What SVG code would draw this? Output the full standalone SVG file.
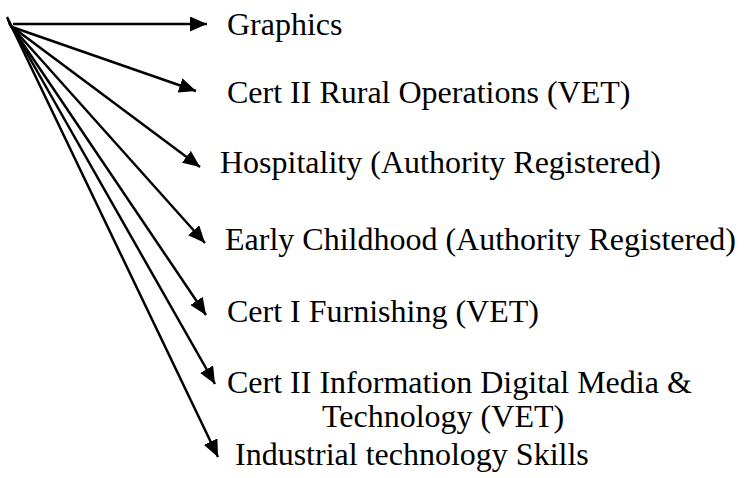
<svg xmlns="http://www.w3.org/2000/svg" width="754" height="478" viewBox="0 0 754 478">
<defs>
<marker id="ah" markerUnits="userSpaceOnUse" markerWidth="17" markerHeight="15" viewBox="0 0 17 15" refX="17" refY="7.5" orient="auto">
<path d="M0,0 L17,7.5 L0,15 Z" fill="#000"/>
</marker>
</defs>
<style>
.t{font-family:"Liberation Serif","Times New Roman",serif;font-size:32px;fill:#000}
.c{stroke:#000;stroke-width:2.5;fill:none;marker-end:url(#ah)}
</style>
<g id="connectors">
<line class="c" x1="13" y1="24" x2="207" y2="24"/>
<line class="c" x1="12" y1="27" x2="196" y2="91"/>
<line class="c" x1="11" y1="26" x2="200" y2="167"/>
<line class="c" x1="10" y1="25" x2="205" y2="243"/>
<line class="c" x1="9" y1="23" x2="206" y2="315"/>
<line class="c" x1="8" y1="20" x2="215" y2="384"/>
<line class="c" x1="7" y1="17" x2="218" y2="457"/>
</g>
<g id="n1"><text class="t" x="227" y="35">Graphics</text></g>
<g id="n2"><text class="t" x="227" y="103">Cert II Rural Operations (VET)</text></g>
<g id="n3"><text class="t" x="220" y="173">Hospitality (Authority Registered)</text></g>
<g id="n4"><text class="t" x="225" y="250">Early Childhood (Authority Registered)</text></g>
<g id="n5"><text class="t" x="227" y="322">Cert I Furnishing (VET)</text></g>
<g id="n6"><text class="t" x="227" y="393">Cert II Information Digital Media &amp;</text><text class="t" x="322" y="427">Technology (VET)</text></g>
<g id="n7"><text class="t" x="235" y="465">Industrial technology Skills</text></g>
</svg>
